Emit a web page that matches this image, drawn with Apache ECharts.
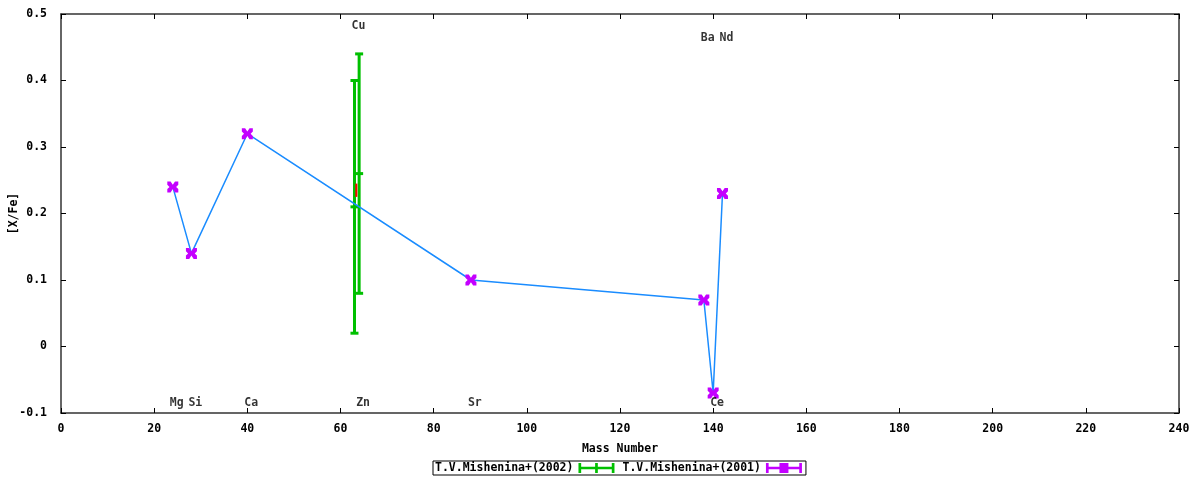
<!DOCTYPE html>
<html>
<head>
<meta charset="utf-8">
<script src="https://cdn.jsdelivr.net/npm/echarts@6/dist/echarts.min.js"></script>
<style>
  html, body { margin: 0; padding: 0; background: #fff; }
  #chart { width: 1200px; height: 480px; }
</style>
</head>
<body>
<div id="chart"></div>
<script>
// T.V.Mishenina+(2001): mass number vs [X/Fe]
var massNumbers2001 = [24, 28, 40, 88, 138, 140, 142];
var abund2001 = [0.24, 0.14, 0.32, 0.10, 0.07, -0.07, 0.23];

// T.V.Mishenina+(2002): error bars (Cu, Zn)
var mass2002 = [63, 64];
var value2002 = [0.21, 0.26];
var low2002 = [0.02, 0.08];
var high2002 = [0.40, 0.44];

// short red mark on the Cu bar
var redX = [63.4, 63.4];
var redY = [0.225, 0.245];

// element labels
var elemNames = ['Mg', 'Si', 'Ca', 'Cu', 'Zn', 'Sr', 'Ba', 'Ce', 'Nd'];
var elemX = [24, 28, 40, 63, 64, 88, 138, 140, 142];
var elemY = [-0.085, -0.085, -0.085, 0.482, -0.085, -0.085, 0.464, -0.085, 0.464];

var FONT = 'DejaVu Sans Mono';
var GREEN = '#00c000';
var PURPLE = '#c400ff';
var BLUE = '#1a8cff';

var errData = [];
for (var i = 0; i < mass2002.length; i++) {
    errData.push([mass2002[i], low2002[i], high2002[i], value2002[i]]);
}
var lineData = massNumbers2001.map(function (m, i) { return [m, abund2001[i]]; });
var labelData = elemNames.map(function (n, i) { return { value: [elemX[i], elemY[i]], name: n }; });

var xMark = 'path://M0,0L3,0L5,3L7,0L10,0L10,3L8,5L10,7L10,10L7,10L5,7L3,10L0,10L0,7L2,5L0,3Z';
var errIcon = 'path://M0,4H40V7H0Z M0,0H3V11H0Z M37,0H40V11H37Z M18.5,0H21.5V11H18.5Z';
var errIcon2 = 'path://M0,4H40V7H0Z M0,0H3V11H0Z M37,0H40V11H37Z M15,0H25V11H15Z';

var axisLine = { show: true, onZero: false, lineStyle: { color: '#333', width: 1.5 } };
var axisTick = { show: true, inside: true, length: 5, lineStyle: { color: '#000' } };
var labelStyle = { fontFamily: FONT, fontWeight: 'bold', fontSize: 11.5, color: '#000' };

var myChart = echarts.init(document.getElementById('chart'));
var option = {
    animation: false,
    grid: { left: 61, right: 21, top: 14, bottom: 67, containLabel: false, outerBoundsMode: 'none' },
    legend: {
        left: 433,
        bottom: 5,
        align: 'right',
        orient: 'horizontal',
        borderColor: '#000',
        borderWidth: 1,
        padding: [1, 4, 1, 2],
        itemGap: 8,
        itemWidth: 36,
        itemHeight: 10,
        textStyle: labelStyle,
        data: [
            { name: 'T.V.Mishenina+(2002)', icon: errIcon, itemStyle: { color: GREEN } },
            { name: 'T.V.Mishenina+(2001)', icon: errIcon2, itemStyle: { color: PURPLE } }
        ]
    },
    xAxis: [{
        type: 'value', min: 0, max: 240, interval: 20,
        name: 'Mass Number', nameLocation: 'middle', nameGap: 30,
        nameTextStyle: labelStyle,
        axisLine: axisLine, axisTick: axisTick,
        axisLabel: Object.assign({ margin: 10 }, labelStyle),
        splitLine: { show: false }
    }, {
        type: 'value', min: 0, max: 240, interval: 20, position: 'top',
        axisLine: axisLine, axisTick: axisTick,
        axisLabel: { show: false }, splitLine: { show: false }
    }],
    yAxis: [{
        type: 'value', min: -0.1, max: 0.5, interval: 0.1,
        name: '[X/Fe]', nameLocation: 'middle', nameGap: 41,
        nameMoveOverlap: false,
        nameTextStyle: labelStyle,
        axisLine: axisLine, axisTick: axisTick,
        axisLabel: Object.assign({
            margin: 14,
            formatter: function (v) { return Math.abs(v) < 1e-9 ? '0' : (+v.toFixed(1)).toString(); }
        }, labelStyle),
        splitLine: { show: false }
    }, {
        type: 'value', min: -0.1, max: 0.5, interval: 0.1, position: 'right',
        axisLine: axisLine, axisTick: axisTick,
        axisLabel: { show: false }, splitLine: { show: false }
    }],
    series: [
        {
            name: 'T.V.Mishenina+(2002)',
            type: 'custom',
            itemStyle: { color: GREEN },
            data: errData,
            renderItem: function (params, api) {
                var x = api.value(0);
                var lo = api.coord([x, api.value(1)]);
                var hi = api.coord([x, api.value(2)]);
                var mid = api.coord([x, api.value(3)]);
                var hw = 4;
                var st = { stroke: GREEN, lineWidth: 3 };
                return {
                    type: 'group',
                    children: [
                        { type: 'line', shape: { x1: lo[0], y1: lo[1], x2: hi[0], y2: hi[1] }, style: st },
                        { type: 'line', shape: { x1: lo[0] - hw, y1: lo[1], x2: lo[0] + hw, y2: lo[1] }, style: st },
                        { type: 'line', shape: { x1: hi[0] - hw, y1: hi[1], x2: hi[0] + hw, y2: hi[1] }, style: st },
                        { type: 'line', shape: { x1: mid[0] - hw, y1: mid[1], x2: mid[0] + hw, y2: mid[1] }, style: st }
                    ]
                };
            },
            z: 2
        },
        {
            name: 'red',
            type: 'line',
            data: redX.map(function (x, i) { return [x, redY[i]]; }),
            symbol: 'none',
            lineStyle: { color: '#ff0000', width: 2 },
            silent: true,
            z: 3
        },
        {
            name: 'T.V.Mishenina+(2001)',
            type: 'line',
            data: lineData,
            symbol: xMark,
            symbolSize: 11,
            showAllSymbol: true,
            itemStyle: { color: PURPLE },
            lineStyle: { color: BLUE, width: 1.5 },
            z: 4
        },
        {
            name: 'labels',
            type: 'scatter',
            data: labelData,
            symbolSize: 0,
            silent: true,
            label: {
                show: true,
                position: 'inside',
                align: 'left',
                offset: [-3, 0],
                formatter: function (p) { return p.name; },
                fontFamily: FONT,
                fontWeight: 'bold',
                fontSize: 11.5,
                color: '#000'
            },
            z: 5
        }
    ]
};
myChart.setOption(option);
</script>
</body>
</html>
